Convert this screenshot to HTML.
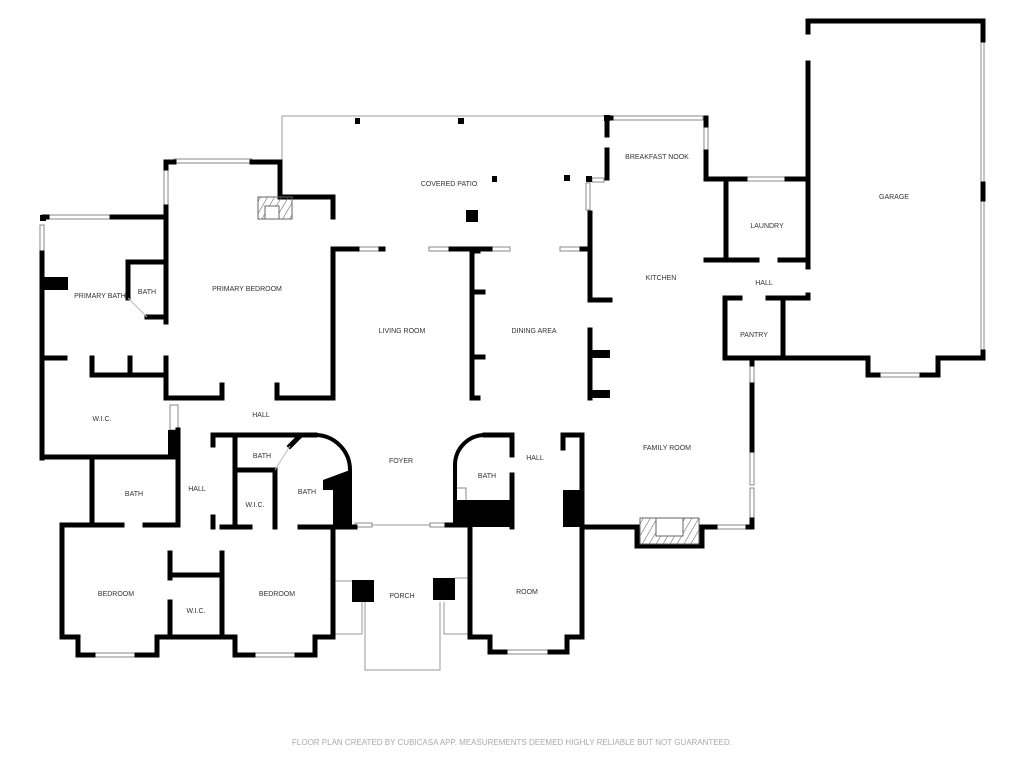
<!DOCTYPE html>
<html><head><meta charset="utf-8"><style>
html,body{margin:0;padding:0;background:#fff;}
svg{display:block}
text{font-family:"Liberation Sans",sans-serif;font-size:7px;fill:#333;text-anchor:middle;}
</style></head><body>
<svg width="1024" height="768" viewBox="0 0 1024 768">
<g fill="none" stroke="#999" stroke-width="1">
<!-- patio outline -->
<polyline points="282,160 282,116 607,116"/>
<!-- porch -->
<polyline points="365,602 365,670 440,670 440,602"/>
<polyline points="333,581 355,581"/><polyline points="333,634 362,634 362,602"/>
<polyline points="470,578 455,578"/><polyline points="470,634 444,634 444,602"/>
<line x1="372" y1="525" x2="430" y2="525"/>
</g>
<!-- windows -->
<g fill="#fff" stroke="#888" stroke-width="1">
<rect x="174" y="159" width="78" height="4"/>
<rect x="47" y="215" width="65" height="4"/>
<rect x="40" y="225" width="4" height="28"/>
<rect x="164" y="168" width="4" height="39"/>
<rect x="357" y="247" width="24" height="4"/><rect x="429" y="247" width="22" height="4"/>
<rect x="490" y="247" width="20" height="4"/><rect x="560" y="247" width="22" height="4"/>
<rect x="613" y="116" width="90" height="4"/><rect x="704" y="125" width="4" height="27"/>
<rect x="745" y="177" width="42" height="4"/>
<rect x="592" y="178" width="12" height="4"/><rect x="586" y="183" width="4" height="27"/>
<rect x="878" y="373" width="44" height="4"/>
<rect x="750" y="365" width="4" height="20"/><rect x="750" y="450" width="4" height="35"/><rect x="750" y="488" width="4" height="32"/>
<rect x="715" y="525" width="33" height="4"/>
<rect x="93" y="653" width="44" height="4"/><rect x="253" y="653" width="44" height="4"/><rect x="505" y="650" width="45" height="4"/>
<rect x="355" y="523" width="17" height="4"/><rect x="430" y="523" width="17" height="4"/>
<rect x="170" y="405" width="8" height="25"/>
<rect x="456" y="488" width="10" height="22"/><rect x="340" y="488" width="10" height="22"/>
<rect x="981" y="40" width="3" height="144"/><rect x="981" y="199" width="3" height="153"/>
</g>
<!-- walls -->
<g fill="none" stroke="#000" stroke-width="5" stroke-linecap="square">
<!-- garage -->
<polyline points="808,32 808,21 983,21 983,40"/>
<polyline points="808,63 808,267"/>
<polyline points="783,300 783,358 868,358 868,375 878,375"/>
<polyline points="922,375 938,375 938,358 983,358 983,352"/>
<line x1="983" y1="184" x2="983" y2="199"/>
<!-- laundry / pantry -->
<polyline points="706,152 706,179 745,179"/><line x1="787" y1="179" x2="808" y2="179"/>
<line x1="726" y1="179" x2="726" y2="260"/>
<line x1="706" y1="260" x2="757" y2="260"/><line x1="780" y1="260" x2="808" y2="260"/>
<line x1="808" y1="295" x2="808" y2="298"/>
<line x1="768" y1="298" x2="808" y2="298"/>
<polyline points="740,298 725,298 725,358 783,358"/>
<line x1="752" y1="358" x2="752" y2="364"/>
<line x1="752" y1="385" x2="752" y2="450"/>
<polyline points="748,527 752,527 752,520"/>
<!-- nook -->
<polyline points="607,135 607,118 611,118"/><line x1="706" y1="118" x2="706" y2="125"/>
<line x1="607" y1="150" x2="607" y2="178"/>
<!-- kitchen left -->
<polyline points="590,213 590,300 610,300"/>
<line x1="590" y1="330" x2="590" y2="398"/>
<!-- family room bottom -->
<polyline points="582,527 637,527 637,546 702,546 702,527 715,527"/>
<!-- living/dining -->
<line x1="333" y1="249" x2="357" y2="249"/><line x1="381" y1="249" x2="383" y2="249"/>
<line x1="451" y1="249" x2="490" y2="249"/><line x1="582" y1="249" x2="590" y2="249"/>
<polyline points="333,249 333,398"/>
<polyline points="478,251 472,251 472,398 478,398"/>
<line x1="472" y1="292" x2="483" y2="292"/><line x1="472" y1="357" x2="483" y2="357"/>
<polyline points="333,217 333,197 280,197 280,162 252,162"/>
<!-- primary bedroom -->
<polyline points="174,162 166,162 166,168"/>
<line x1="166" y1="207" x2="166" y2="322"/>
<line x1="166" y1="358" x2="166" y2="398"/>
<polyline points="166,398 222,398 222,385"/>
<polyline points="277,385 277,398 333,398"/>
<!-- primary bath -->
<polyline points="112,217 166,217"/><line x1="44" y1="217" x2="47" y2="217"/>
<line x1="42" y1="253" x2="42" y2="458"/>
<polyline points="128,298 128,262 166,262"/>
<polyline points="147,317 166,317"/>
<line x1="42" y1="358" x2="65" y2="358"/>
<polyline points="92,358 92,375 166,375"/>
<line x1="130" y1="358" x2="130" y2="375"/>
<polyline points="42,457 177,457"/>
<line x1="166" y1="375" x2="166" y2="398"/>
<!-- left lower -->
<line x1="92" y1="458" x2="92" y2="525"/>
<line x1="178" y1="430" x2="178" y2="525"/>
<polyline points="122,525 62,525 62,637 78,637 78,655 93,655"/>
<polyline points="145,525 178,525"/>
<polyline points="137,655 157,655 157,637 170,637"/>
<line x1="170" y1="553" x2="170" y2="578"/><line x1="170" y1="602" x2="170" y2="637"/>
<line x1="170" y1="575" x2="222" y2="575"/>
<line x1="222" y1="553" x2="222" y2="637"/>
<polyline points="170,637 235,637 235,655 253,655"/>
<polyline points="297,655 315,655 315,637 333,637 333,527"/>
<line x1="222" y1="527" x2="250" y2="527"/>
<line x1="300" y1="527" x2="333" y2="527"/>
<!-- hall block -->
<polyline points="213,445 213,435 315,435"/>
<line x1="235" y1="435" x2="235" y2="527"/>
<line x1="235" y1="470" x2="275" y2="470"/>
<line x1="275" y1="470" x2="275" y2="527"/>
<line x1="213" y1="517" x2="213" y2="527"/>
<line x1="333" y1="527" x2="355" y2="527"/>
<line x1="300" y1="436" x2="290" y2="446"/>
<!-- right bath/hall -->
<polyline points="485,435 512,435 512,455"/>
<line x1="512" y1="475" x2="512" y2="527"/>
<polyline points="563,448 563,435 582,435 582,527"/>
<line x1="447" y1="525" x2="470" y2="525"/>
<line x1="582" y1="527" x2="590" y2="527"/>
<!-- room -->
<polyline points="470,527 470,637 490,637 490,652 505,652"/>
<polyline points="550,652 567,652 567,637 582,637 582,527"/>
</g>
<!-- arcs -->
<g fill="none" stroke="#000" stroke-width="4">
<path d="M315,435 A35,35 0 0 1 350,470 L350,527"/>
<path d="M485,435 A30,30 0 0 0 455,465 L455,527"/>
</g>
<g stroke="#bbb" stroke-width="1"><line x1="290" y1="446" x2="275" y2="470"/><line x1="128" y1="298" x2="147" y2="317"/></g>
<!-- solid blocks -->
<g fill="#000">
<rect x="42" y="277" width="26" height="13"/>
<rect x="168" y="430" width="10" height="28"/>
<polygon points="350,470 350,525 333,525 333,490 323,490 323,480"/>
<rect x="455" y="500" width="58" height="27"/>
<rect x="563" y="490" width="20" height="37"/>
<rect x="590" y="350" width="20" height="8"/><rect x="590" y="390" width="20" height="8"/>
<rect x="352" y="580" width="22" height="22"/><rect x="433" y="578" width="22" height="22"/>
<rect x="355" y="118" width="5" height="6"/><rect x="458" y="118" width="6" height="6"/>
<rect x="492" y="176" width="5" height="6"/><rect x="564" y="175" width="6" height="6"/>
<rect x="466" y="210" width="12" height="12"/>
<rect x="604" y="115" width="6" height="6"/><rect x="586" y="176" width="6" height="6"/>
<rect x="40" y="215" width="6" height="6"/>
</g>
<!-- fireplaces -->
<defs><pattern id="h" width="6" height="6" patternUnits="userSpaceOnUse" patternTransform="rotate(30)"><line x1="0" y1="0" x2="0" y2="6" stroke="#555" stroke-width="1"/></pattern></defs>
<rect x="258" y="197" width="34" height="22" fill="url(#h)" stroke="#666"/>
<rect x="265" y="206" width="14" height="13" fill="#fff" stroke="#666"/>
<rect x="640" y="518" width="59" height="26" fill="url(#h)" stroke="#666"/>
<rect x="656" y="518" width="27" height="18" fill="#fff" stroke="#666"/>
<!-- labels -->
<text x="449" y="186">COVERED PATIO</text>
<text x="657" y="159">BREAKFAST NOOK</text>
<text x="894" y="199">GARAGE</text>
<text x="767" y="228">LAUNDRY</text>
<text x="661" y="280">KITCHEN</text>
<text x="764" y="285">HALL</text>
<text x="754" y="337">PANTRY</text>
<text x="247" y="291">PRIMARY BEDROOM</text>
<text x="100" y="298">PRIMARY BATH</text>
<text x="147" y="294">BATH</text>
<text x="402" y="333">LIVING ROOM</text>
<text x="534" y="333">DINING AREA</text>
<text x="102" y="421">W.I.C.</text>
<text x="261" y="417">HALL</text>
<text x="667" y="450">FAMILY ROOM</text>
<text x="262" y="458">BATH</text>
<text x="401" y="463">FOYER</text>
<text x="535" y="460">HALL</text>
<text x="487" y="478">BATH</text>
<text x="307" y="494">BATH</text>
<text x="197" y="491">HALL</text>
<text x="134" y="496">BATH</text>
<text x="255" y="507">W.I.C.</text>
<text x="116" y="596">BEDROOM</text>
<text x="277" y="596">BEDROOM</text>
<text x="402" y="598">PORCH</text>
<text x="527" y="594">ROOM</text>
<text x="196" y="613">W.I.C.</text>
<text x="512" y="745" style="font-size:8px;fill:#aaa">FLOOR PLAN CREATED BY CUBICASA APP. MEASUREMENTS DEEMED HIGHLY RELIABLE BUT NOT GUARANTEED.</text>
</svg>
</body></html>
